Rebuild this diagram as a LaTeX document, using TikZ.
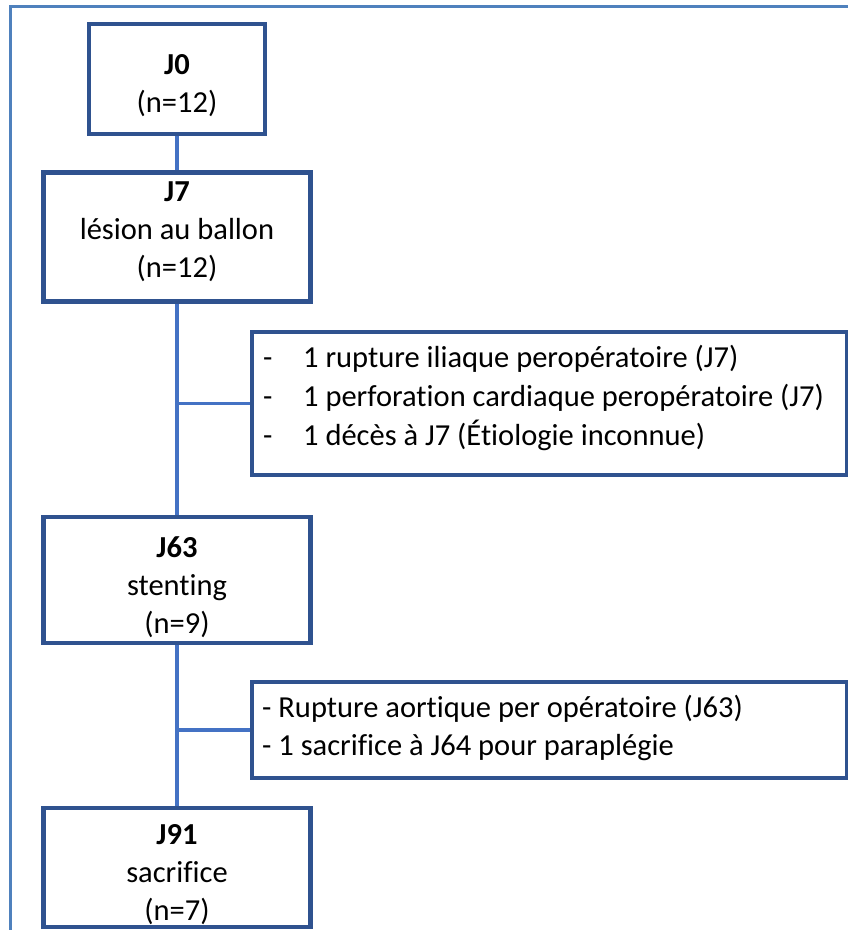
\documentclass[tikz,border=0pt]{standalone}
\usepackage{fontspec}
\setmainfont[Ligatures={NoCommon}]{Carlito}
\definecolor{boxblue}{RGB}{47,82,143}
\definecolor{linkblue}{RGB}{68,114,196}
\definecolor{frameblue}{RGB}{79,129,189}
\begin{document}
\begin{tikzpicture}[x=1pt,y=-1pt,
  box/.style={draw=boxblue,line width=4.5pt,fill=white,inner sep=0pt},
  link/.style={draw=linkblue,line width=3.5pt},
  txt/.style={inner sep=0pt,align=center,font=\fontsize{30.5}{38}\selectfont},
  ltxt/.style={inner sep=0pt,align=left,anchor=west,font=\fontsize{30.5}{39}\selectfont}]
\useasboundingbox (0,0) rectangle (848,930);
\clip (0,0) rectangle (848,930);
\fill[white] (0,0) rectangle (848,930);
% outer frame
\draw[frameblue,line width=3pt] (10.5,940) -- (10.5,6.5) -- (870,6.5);
% boxes
\node[box,minimum width=176pt,minimum height=110pt] (j0) at (177,79) {};
\node[box,minimum width=267pt,minimum height=129pt] (j7) at (177,237) {};
\node[box,minimum width=267pt,minimum height=126pt] (j63) at (177,580) {};
\node[box,minimum width=267pt,minimum height=119pt] (j91) at (177,867.5) {};
\node[box,line width=3.5pt,minimum width=595pt,minimum height=143pt] (b1) at (549.5,403.5) {};
\node[box,line width=3.5pt,minimum width=595pt,minimum height=96pt] (b2) at (549.5,730) {};
% connectors
\draw[link] (j0.south) -- (j7.north);
\draw[link] (j7.south) -- (j63.north);
\draw[link] (j63.south) -- (j91.north);
\draw[link] (j7.south |- b1.west) -- (b1.west);
\draw[link] (j63.south |- b2.west) -- (b2.west);
% texts
\node[txt] (j0t) at (177,86) {\textbf{J0}\\(n=12)};
\node[txt] (j7t) at (177,232) {\textbf{J7}\\lésion au ballon\\(n=12)};
\node[txt] (j63t) at (177,587) {\textbf{J63}\\stenting\\(n=9)};
\node[txt] (j91t) at (177,875) {\textbf{J91}\\sacrifice\\(n=7)};
\node[ltxt] (b1t) at (263,398) {\makebox[40pt][l]{-}1 rupture iliaque peropératoire (J7)\\
\makebox[40pt][l]{-}1 perforation cardiaque peropératoire (J7)\\
\makebox[40pt][l]{-}1 décès à J7 (Étiologie inconnue)};
\node[ltxt,font=\fontsize{30.5}{38}\selectfont] (b2t) at (262,728) {- Rupture aortique per opératoire (J63)\\- 1 sacrifice à J64 pour paraplégie};
\end{tikzpicture}
\end{document}
